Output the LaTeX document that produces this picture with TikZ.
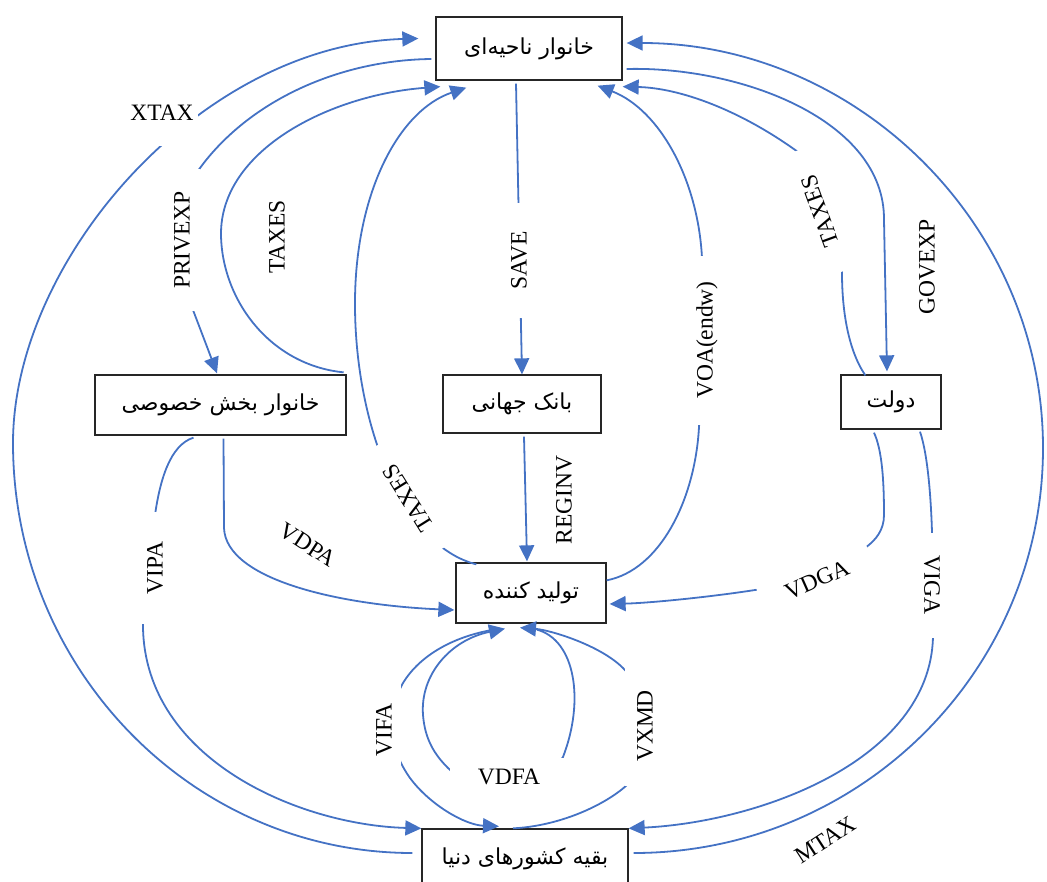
\documentclass[tikz,border=0pt]{standalone}
\usepackage{fontspec}
\setmainfont{Liberation Serif}
\newfontfamily\persianfont[Script=Arabic]{DejaVu Sans}
\TeXXeTstate=1
\usepackage{xcolor}
\usetikzlibrary{calc,arrows.meta}
\definecolor{flowblue}{RGB}{68,114,196}
\newcommand{\rtltext}[1]{\beginR #1\endR}
\tikzstyle{box}=[draw=black!85, line width=1.3pt, fill=white, inner sep=0pt, font=\persianfont\fontsize{22}{26}\selectfont]
\tikzset{pay/.style={draw=flowblue, line width=1.8pt, -{Triangle[length=16pt,width=15pt]}}}
\tikzstyle{lbl}=[fill=white, inner sep=4pt, font=\fontsize{23.5}{28}\selectfont]

\begin{document}
\begin{tikzpicture}[x=1pt,y=-1pt]
  \useasboundingbox (0,0) rectangle (1047,881);

  %% Accounts
  \draw (529,48.5) node[box, minimum width=186, minimum height=63] (hhreg) {\rtltext{خانوار ناحیه^^^^200cای}};
  \draw (220.5,405) node[box, minimum width=251, minimum height=60] (hhpriv) {\rtltext{خانوار بخش خصوصی}};
  \draw (522,404) node[box, minimum width=158, minimum height=58] (bank) {\rtltext{بانک جهانی}};
  \draw (891,402) node[box, minimum width=100, minimum height=54] (gov) {\rtltext{دولت}};
  \draw (531,593) node[box, minimum width=150, minimum height=60] (prod) {\rtltext{تولید کننده}};
  \draw (525,859) node[box, minimum width=206, minimum height=60] (row) {\rtltext{بقیه کشورهای دنیا}};

  %% Outer arcs
  \draw[pay] ($(row.west)+(-9,-6)$) .. controls (192,853) and (13,669) .. (13,443) .. controls (13,260) and (200,45) .. ($(hhreg.west)+(-17,-10)$);
  \draw[pay] ($(row.east)+(5,-6)$) .. controls (859,853) and (1043,672) .. (1043,448) .. controls (1043,224) and (856,43) .. ($(hhreg.east)+(4,-5.5)$);

  %% Regional household and its neighbours
  \draw[pay] ($(hhreg.west)+(-4,10.5)$) .. controls (340,60) and (250,100) .. (200,168) .. controls (180,195) and (178,270) .. (193,310) .. controls (201,331) and (209,352) .. ($(hhpriv.north)+(-3.5,-1)$);
  \draw[pay] ($(hhpriv.north east)+(-3,-2)$) .. controls (270,365) and (222,300) .. (221,235) .. controls (220,150) and (330,95) .. ($(hhreg.south west)+(5,6)$);
  \draw[pay] ($(prod.north west)+(21,2)$) .. controls (400,545) and (354,420) .. (355,300) .. controls (356,190) and (400,110) .. ($(hhreg.south west)+(31,7)$);
  \draw[pay] ($(hhreg.south)+(-13,3)$) -- (bank.north);
  \draw[pay] ($(prod.north east)+(0,18)$) .. controls (660,570) and (695,500) .. (699,427) .. controls (703,370) and (704,310) .. (702,258) .. controls (698,180) and (660,110) .. ($(hhreg.south east)+(-25,5)$);
  \draw[pay] ($(gov.north west)+(25,1)$) .. controls (848,350) and (842,310) .. (842,273) .. controls (842,230) and (825,185) .. (798,152) .. controls (740,110) and (680,88) .. ($(hhreg.south east)+(0,6)$);
  \draw[pay] ($(hhreg.east)+(4,20.5)$) .. controls (740,66) and (885,120) .. (884,220) -- ($(gov.north)+(-4,-3)$);

  %% Middle row
  \draw[pay] ($(bank.south)+(2,3)$) -- ($(prod.north)+(-4,-1)$);
  \draw[pay] ($(hhpriv.south)+(3,3)$) -- (224,528) .. controls (226,580) and (340,605) .. ($(prod.west)+(-1,17)$);
  \draw[pay] ($(hhpriv.south)+(-27,2)$) .. controls (170,445) and (160,480) .. (155,515) .. controls (150,550) and (143,590) .. (143,627) .. controls (145,760) and (300,825) .. (row.north west);
  \draw[pay] ($(gov.south)+(-17,3)$) .. controls (882,450) and (884,480) .. (884,515) .. controls (884,530) and (876,540) .. (865,548) .. controls (830,572) and (790,585) .. (755,590) .. controls (710,597) and (650,603) .. ($(prod.east)+(3,11)$);
  \draw[pay] ($(gov.south)+(29,2)$) .. controls (928,455) and (931,500) .. (932,532) .. controls (933,570) and (934,600) .. (933,637) .. controls (930,760) and (760,822) .. (row.north east);

  %% Producer and rest of world
  \draw[pay] ($(prod.south)+(-31,5)$) .. controls (455,635) and (420,655) .. (403,683) .. controls (385,715) and (390,750) .. (410,778) .. controls (430,805) and (465,825) .. ($(row.north)+(-26,-2)$);
  \draw[pay] ($(prod.south)+(6,6)$) .. controls (575,640) and (585,700) .. (563,757) .. controls (540,790) and (480,800) .. (448,768) .. controls (435,755) and (425,740) .. (423,715) .. controls (420,675) and (450,640) .. ($(prod.south)+(-26,5)$);
  \draw[pay] ($(row.north)+(-12,0)$) .. controls (560,826) and (605,805) .. (627,785) .. controls (655,750) and (655,700) .. (623,668) .. controls (600,645) and (550,630) .. ($(prod.south)+(-11,4)$);

  %% Flow names
  \node[lbl, text depth=22pt, anchor=base] (lxtax) at (162,120) {XTAX};
  \node[lbl, rotate=90, minimum width=142, minimum height=36] (lprivexp) at (182,240) {PRIVEXP};
  \node[lbl, rotate=90] (ltaxpriv) at (277,237) {TAXES};
  \node[lbl, rotate=122, minimum width=122] (ltaxprod) at (408,498) {TAXES};
  \node[lbl, rotate=90, minimum width=115] (lsave) at (519,260) {SAVE};
  \node[lbl, rotate=90, minimum width=169] (lvoa) at (707,340) {VOA(endw)};
  \node[lbl, rotate=110, minimum width=129] (ltaxgov) at (820,211) {TAXES};
  \node[lbl, rotate=90] (lgovexp) at (927,267) {GOVEXP};
  \node[lbl, rotate=90] (lreginv) at (564,500) {REGINV};
  \node[lbl, rotate=-33] (lvdpa) at (308,545) {VDPA};
  \node[lbl, rotate=90, minimum width=112, minimum height=34] (lvipa) at (155,568) {VIPA};
  \node[lbl, rotate=24, minimum width=118, minimum height=50] (lvdga) at (817,580) {VDGA};
  \node[lbl, rotate=-90, minimum width=105] (lviga) at (932,585) {VIGA};
  \node[lbl, rotate=90, minimum width=95, minimum height=34] (lvifa) at (384,730) {VIFA};
  \node[lbl, minimum width=118, minimum height=38] (lvdfa) at (509,777) {VDFA};
  \node[lbl, rotate=90, minimum width=120, minimum height=40] (lvxmd) at (645,726) {VXMD};
  \node[lbl, rotate=33] (lmtax) at (825,840) {MTAX};
\end{tikzpicture}
\end{document}
